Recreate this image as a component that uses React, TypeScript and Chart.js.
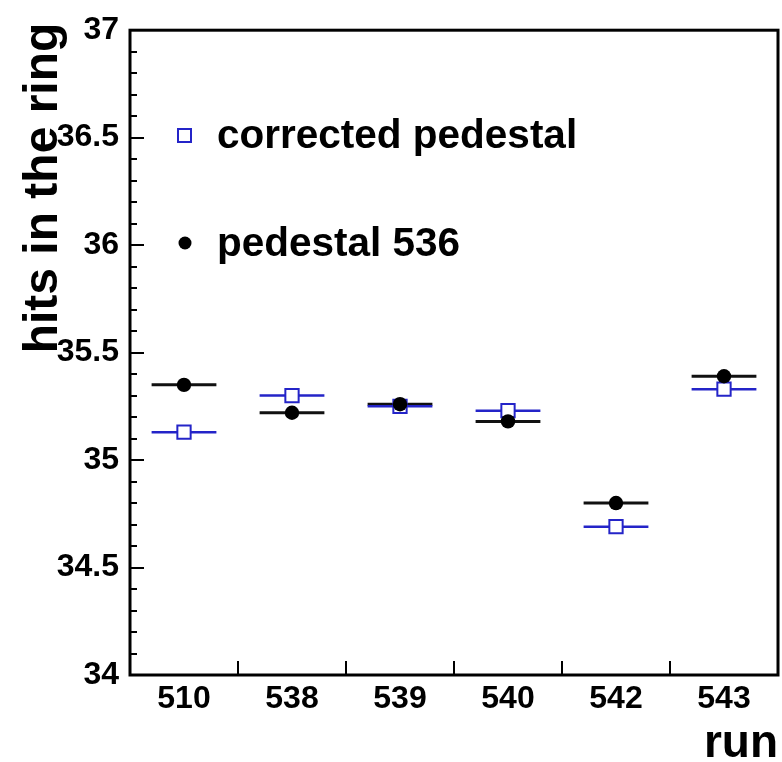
import { useEffect, useRef } from 'react';
import { Chart, registerables } from 'chart.js';

Chart.register(...registerables);

// Runs on the horizontal axis
const runs = ['510', '538', '539', '540', '542', '543'];
// Mean number of hits in the ring per run
const correctedPedestal = [35.13, 35.3, 35.25, 35.23, 34.69, 35.33];
const pedestal536 = [35.35, 35.22, 35.26, 35.18, 34.8, 35.39];
// Half width of each run bin (horizontal error bar), in run-index units
const runHalfWidth = 0.3;

const yMin = 34;
const yMax = 37;
const yMajorStep = 0.5;
const yMinorStep = 0.1;

const FONT = "'Liberation Sans', Arial, Helvetica, sans-serif";
const BLUE = '#2424c8';
const BLACK = '#000000';

function barPoints(values: number[]) {
  const pts: { x: number; y: number | null }[] = [];
  values.forEach((v, i) => {
    pts.push({ x: i - runHalfWidth, y: v }, { x: i + runHalfWidth, y: v }, { x: i, y: null });
  });
  return pts;
}

function markerPoints(values: number[]) {
  return values.map((v, i) => ({ x: i, y: v }));
}

const framePlugin = {
  id: 'rootFrame',
  afterDraw(chart: any) {
    const { ctx, chartArea: a, scales } = chart;
    const ys = scales.y;
    const xs = scales.x;
    ctx.save();
    ctx.strokeStyle = BLACK;
    ctx.lineCap = 'butt';

    // y ticks pointing into the frame
    ctx.lineWidth = 2;
    const nMinor = Math.round((yMax - yMin) / yMinorStep);
    const perMajor = Math.round(yMajorStep / yMinorStep);
    for (let k = 0; k <= nMinor; k++) {
      const py = Math.round(ys.getPixelForValue(yMin + k * yMinorStep));
      const len = k % perMajor === 0 ? 14 : 7;
      ctx.beginPath();
      ctx.moveTo(a.left, py);
      ctx.lineTo(a.left + len, py);
      ctx.stroke();
    }

    // x ticks at bin boundaries
    for (let i = 0; i < runs.length - 1; i++) {
      const px = Math.round(xs.getPixelForValue(i + 0.5));
      ctx.beginPath();
      ctx.moveTo(px, a.bottom);
      ctx.lineTo(px, a.bottom - 14);
      ctx.stroke();
    }

    // frame
    ctx.lineWidth = 3;
    ctx.strokeRect(a.left, a.top, a.right - a.left, a.bottom - a.top);

    // legend
    ctx.lineWidth = 2;
    ctx.strokeStyle = BLUE;
    ctx.fillStyle = '#ffffff';
    ctx.beginPath();
    ctx.rect(178, 129, 13, 13);
    ctx.fill();
    ctx.stroke();
    ctx.fillStyle = BLACK;
    ctx.beginPath();
    ctx.arc(185, 243, 6.5, 0, Math.PI * 2);
    ctx.fill();

    ctx.font = `bold 40.5px ${FONT}`;
    ctx.textAlign = 'left';
    ctx.textBaseline = 'alphabetic';
    ctx.fillText('corrected pedestal', 217, 148);
    ctx.fillText('pedestal 536', 217, 256);

    // axis titles
    ctx.font = `bold 46px ${FONT}`;
    ctx.textAlign = 'right';
    ctx.fillText('run', a.right, 757);

    ctx.save();
    ctx.translate(57, 188);
    ctx.rotate(-Math.PI / 2);
    ctx.textAlign = 'center';
    ctx.font = `bold 48px ${FONT}`;
    ctx.fillText('hits in the ring', 0, 0);
    ctx.restore();

    ctx.restore();
  },
};

export default function App() {
  const canvasRef = useRef<HTMLCanvasElement | null>(null);

  useEffect(() => {
    const canvas = canvasRef.current;
    if (!canvas) return;
    const chart = new Chart(canvas, {
      type: 'scatter',
      data: {
        datasets: [
          {
            label: 'pedestal 536',
            type: 'scatter',
            data: markerPoints(pedestal536),
            pointStyle: 'circle',
            pointRadius: 7.2,
            pointBackgroundColor: BLACK,
            pointBorderColor: BLACK,
            pointBorderWidth: 0,
            order: 0,
          },
          {
            label: 'corrected pedestal',
            type: 'scatter',
            data: markerPoints(correctedPedestal),
            pointStyle: 'rect',
            pointRadius: 9.4,
            pointBackgroundColor: '#ffffff',
            pointBorderColor: BLUE,
            pointBorderWidth: 2,
            order: 1,
          },
          {
            label: 'corrected pedestal bins',
            type: 'line',
            data: barPoints(correctedPedestal),
            borderColor: BLUE,
            borderWidth: 2.5,
            pointRadius: 0,
            spanGaps: false,
            fill: false,
            order: 2,
          },
          {
            label: 'pedestal 536 bins',
            type: 'line',
            data: barPoints(pedestal536),
            borderColor: '#111111',
            borderWidth: 3,
            pointRadius: 0,
            spanGaps: false,
            fill: false,
            order: 3,
          },
        ],
      },
      options: {
        animation: false,
        responsive: false,
        devicePixelRatio: 1,
        layout: { autoPadding: false, padding: { left: 0, right: 4, top: 27, bottom: 0 } },
        plugins: {
          legend: { display: false },
          tooltip: { enabled: false },
          title: { display: false },
        },
        scales: {
          x: {
            type: 'linear',
            min: -0.5,
            max: runs.length - 0.5,
            afterBuildTicks: (scale: any) => {
              scale.ticks = runs.map((_, i) => ({ value: i }));
            },
            afterFit: (scale: any) => {
              scale.height = 87;
            },
            grid: { display: false, drawTicks: false },
            border: { display: false },
            ticks: {
              autoSkip: false,
              maxRotation: 0,
              padding: 5,
              color: BLACK,
              font: { family: FONT, size: 32, weight: 'bold' },
              callback: (v: any) => runs[Math.round(Number(v))] ?? '',
            },
          },
          y: {
            type: 'linear',
            min: yMin,
            max: yMax,
            afterFit: (scale: any) => {
              scale.width = 130;
            },
            grid: { display: false, drawTicks: false },
            border: { display: false },
            ticks: {
              stepSize: yMajorStep,
              padding: 11,
              color: BLACK,
              font: { family: FONT, size: 32, weight: 'bold' },
              callback: (v: any) => String(Number(v)),
            },
          },
        },
      },
      plugins: [framePlugin],
    });
    return () => chart.destroy();
  }, []);

  return (
    <div style={{ position: 'absolute', left: 0, top: 0, width: 782, height: 762, background: '#ffffff' }}>
      <canvas ref={canvasRef} width={782} height={762} style={{ display: 'block', width: 782, height: 762 }} />
    </div>
  );
}
